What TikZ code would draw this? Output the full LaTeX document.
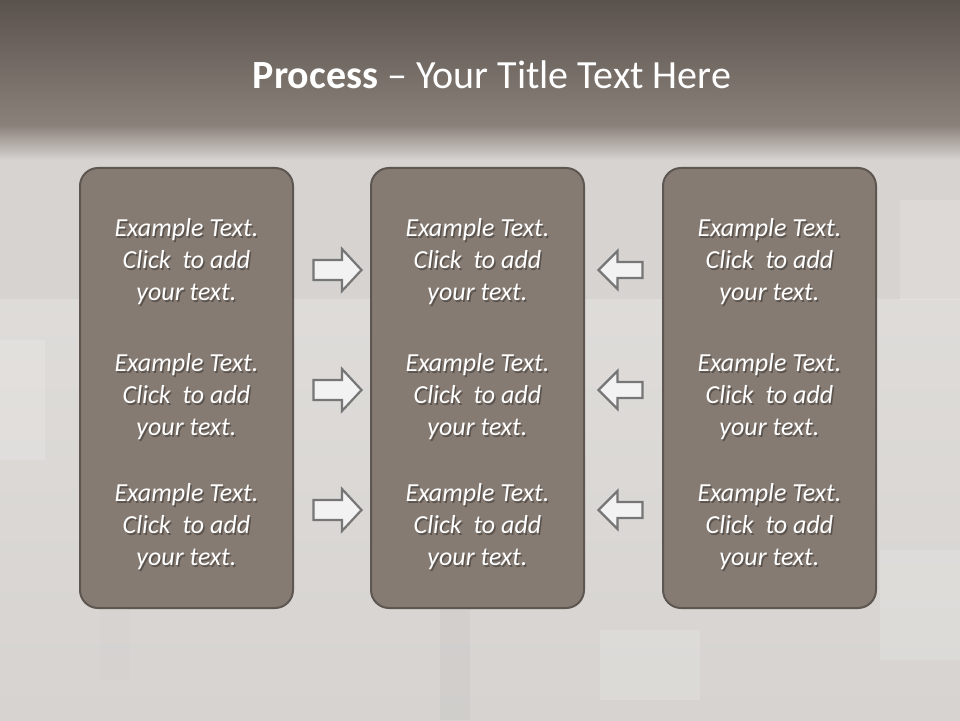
\documentclass[tikz,border=0pt]{standalone}
\usepackage{fontspec}
\setmainfont{Carlito}
\definecolor{bandtop}{HTML}{5A524D}
\definecolor{bandbot}{HTML}{8A817A}
\definecolor{bodybg}{HTML}{D6D3D0}
\definecolor{boxfill}{HTML}{857B73}
\definecolor{boxedge}{HTML}{5E5650}
\definecolor{txtshade}{HTML}{5A524C}
\definecolor{arrfill}{HTML}{F2F2F2}
\definecolor{arredge}{HTML}{767676}
\newcommand\shadowedlines[1]{%
  \rlap{\hspace{1.5pt}\raisebox{-2pt}{\color{txtshade}\begin{tabular}{@{}c@{}}#1\end{tabular}}}%
  \begin{tabular}{@{}c@{}}#1\end{tabular}}
\tikzset{
  panel/.style={draw=boxedge, line width=2pt, fill=boxfill, rounded corners=18pt},
  txt/.style={text=white, font=\fontsize{26}{32}\selectfont\itshape, inner sep=0pt},
  arr/.style={draw=arredge, line width=2.2pt, fill=arrfill, line join=miter},
  pics/rarrow/.style={code={
    \path[arr] (-24,10) -- (4.5,10) -- (4.5,21) -- (24,0) -- (4.5,-21) -- (4.5,-10) -- (-24,-10) -- cycle;}},
  pics/larrow/.style={code={
    \path[arr] (22,8) -- (-3,8) -- (-3,19) -- (-22,0) -- (-3,-19) -- (-3,-8) -- (22,-8) -- cycle;}}
}
\begin{document}
\begin{tikzpicture}[x=1pt,y=1pt]
\useasboundingbox (0,0) rectangle (960,720);
% background
\fill[bodybg] (0,0) rectangle (960,720);
\shade[top color=bodybg!80!white, bottom color=bodybg] (0,0) rectangle (960,420);
\shade[top color=bandbot, bottom color=bodybg] (0,560) rectangle (960,595);
\shade[top color=bandtop, bottom color=bandbot] (0,595) rectangle (960,720);
% faint blocks
\begin{scope}[opacity=0.15]
\fill[white] (0,260) rectangle (45,380);
\fill[white] (900,420) rectangle (960,520);
\fill[black!30] (440,0) rectangle (470,120);
\fill[white] (600,20) rectangle (700,90);
\fill[black!20] (100,40) rectangle (130,110);
\fill[white] (880,60) rectangle (960,170);
\end{scope}
% title
\node[text=white, font=\fontsize{40}{48}\selectfont] (title) at (492,645) {\textbf{Process} – Your Title Text Here};
% panels
\node[panel, minimum width=213pt, minimum height=440pt] (p1) at (186.5,332) {};
\node[panel, minimum width=213pt, minimum height=440pt] (p2) at (477.5,332) {};
\node[panel, minimum width=213pt, minimum height=440pt] (p3) at (769.5,332) {};
% texts
\foreach \cx/\nm in {186.5/a,477.5/b,769.5/c}{
  \foreach \cy/\k in {457/1,322/2,192/3}{
    \node[txt] (t\nm\k) at (\cx,\cy) {\shadowedlines{Example Text.\\Click~ to add\\your text.}};
  }
}
% arrows
\foreach \cy in {450,330,210}{
  \pic at (337.5,\cy) {rarrow};
  \pic at (620.5,\cy) {larrow};
}
\end{tikzpicture}
\end{document}
